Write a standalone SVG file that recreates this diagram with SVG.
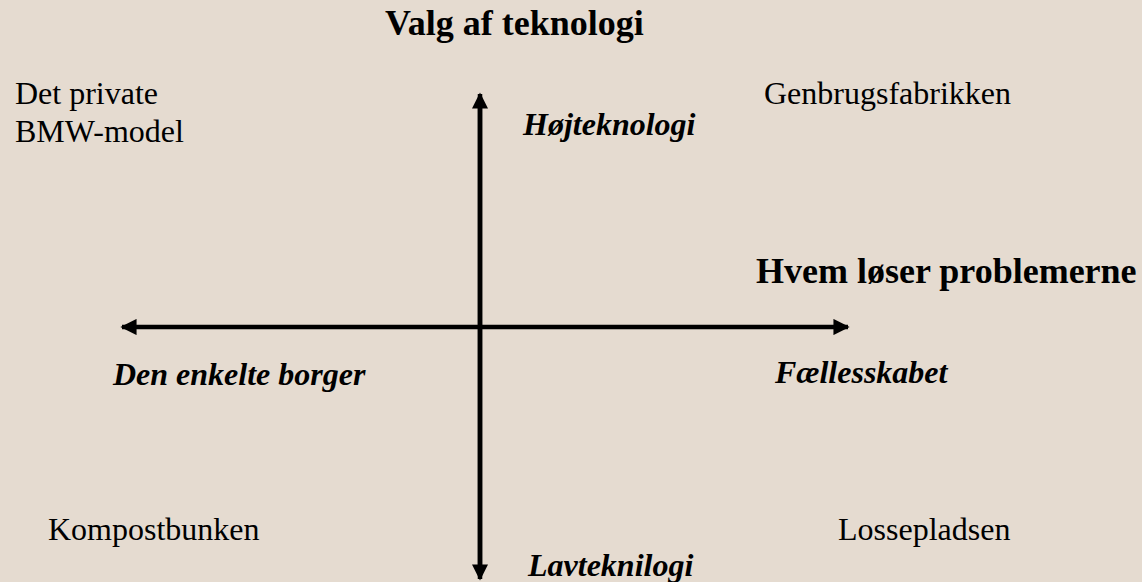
<svg xmlns="http://www.w3.org/2000/svg" width="1142" height="582" viewBox="0 0 1142 582">
<style>
text{font-family:"Liberation Serif","Times New Roman",serif;fill:#000}
.n{font-size:32px}
.bi{font-size:32px;font-weight:bold;font-style:italic}
.b{font-weight:bold;font-size:36px}
.ax{stroke:#000;stroke-width:4.5;fill:none}
</style>
<defs>
<marker id="ah" viewBox="0 0 10 10" refX="9" refY="5" markerWidth="3.6" markerHeight="3.6" orient="auto" markerUnits="strokeWidth">
<path d="M0,0 L10,5 L0,10 z" fill="#000"/>
</marker>
</defs>
<rect width="1142" height="582" fill="#e5dbd0"/>
<g id="connectors">
<line class="ax" x1="480" y1="575" x2="480" y2="94" marker-end="url(#ah)"/>
<line class="ax" x1="480" y1="104" x2="480" y2="579" marker-end="url(#ah)"/>
<line class="ax" x1="480" y1="327" x2="848" y2="327" marker-end="url(#ah)"/>
<line class="ax" x1="480" y1="327" x2="122" y2="327" marker-end="url(#ah)"/>
</g>
<g id="title"><text class="b" x="385" y="35">Valg af teknologi</text></g>
<g id="bmw"><text class="n" x="15" y="104">Det private</text><text class="n" x="15" y="142">BMW-model</text></g>
<g id="hoj"><text class="bi" x="523" y="135">Højteknologi</text></g>
<g id="genbrug"><text class="n" x="764" y="104">Genbrugsfabrikken</text></g>
<g id="hvem"><text class="b" x="756" y="283">Hvem løser problemerne</text></g>
<g id="borger"><text class="bi" x="113" y="385">Den enkelte borger</text></g>
<g id="faelles"><text class="bi" x="775" y="383">Fællesskabet</text></g>
<g id="kompost"><text class="n" x="48" y="540">Kompostbunken</text></g>
<g id="losse"><text class="n" x="838" y="540">Lossepladsen</text></g>
<g id="lav"><text class="bi" x="528" y="576">Lavteknilogi</text></g>
</svg>
